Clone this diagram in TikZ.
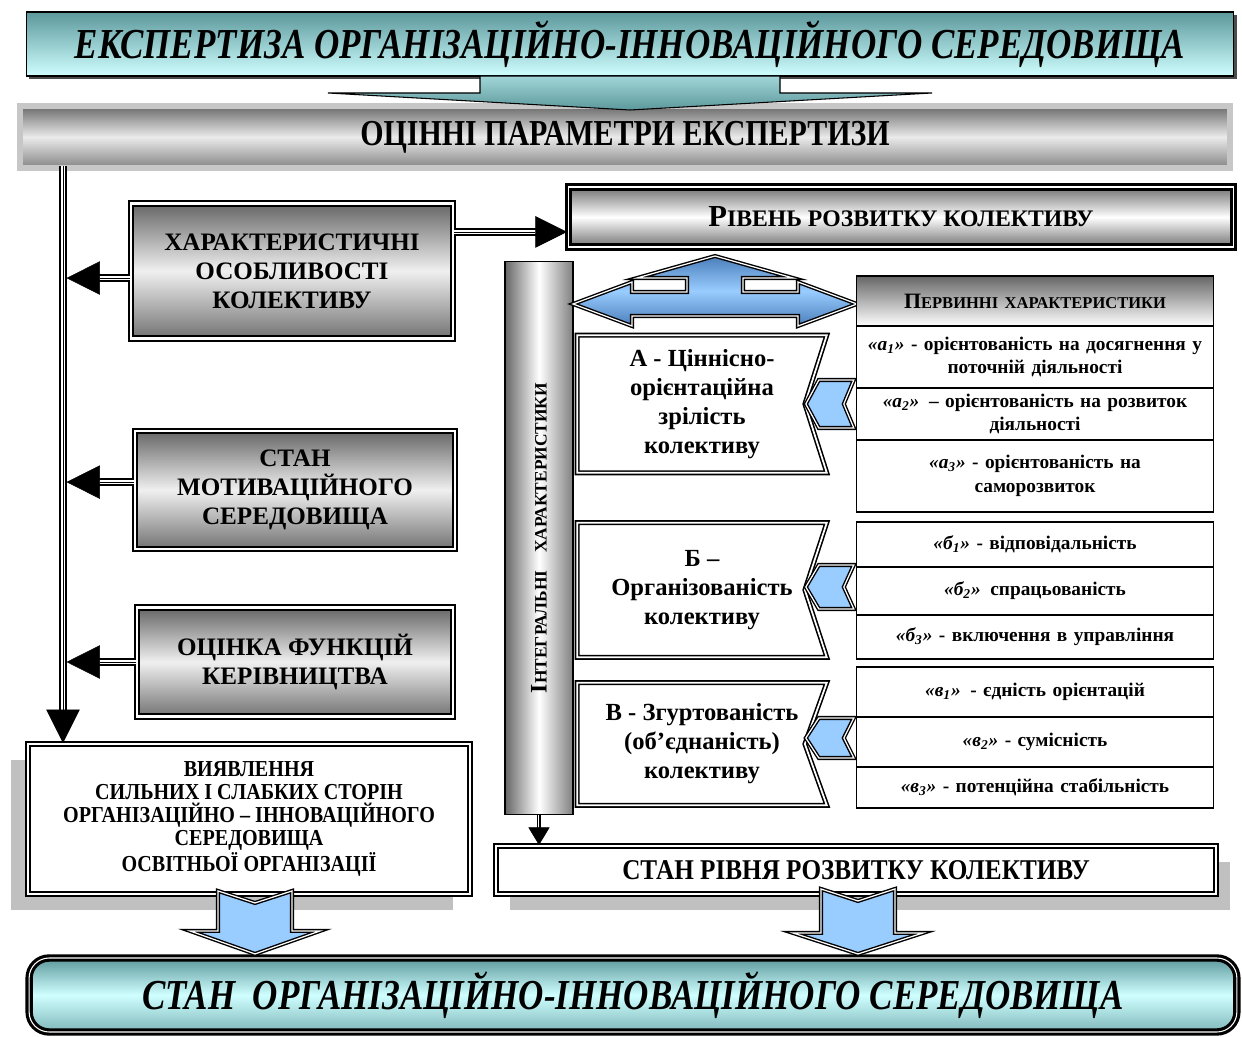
\documentclass[tikz,border=0pt]{standalone}
\usepackage{fontspec}
\setmainfont{Liberation Serif}
\newfontfamily\condfont{Liberation Serif}[FakeStretch=0.88]
\newfontfamily\narrowfont{Liberation Serif}[FakeStretch=0.82]
\usepackage{xcolor}
\usepackage{tikz}
\usetikzlibrary{shapes,arrows.meta,positioning,calc,shadows}
\definecolor{tealdark}{RGB}{92,152,156}
\definecolor{teallight}{RGB}{208,255,255}
\definecolor{skyblue}{RGB}{153,204,255}
\definecolor{bluedeep}{RGB}{74,126,186}
\definecolor{shadowgrey}{RGB}{192,192,192}

\begin{document}
\begin{tikzpicture}[x=0.02cm,y=-0.02cm,
titlebox/.style={draw,line width=0.6pt,top color=tealdark,bottom color=teallight,align=center,inner sep=0pt,font=\narrowfont\fontsize{24.3}{26}\selectfont\bfseries\itshape},
greybox/.style={draw,line width=1.3pt,double=white,double distance=1.2pt,top color=black!60,bottom color=black!55,middle color=black!6,align=center,inner sep=0pt,font=\fontsize{14.3}{16.5}\selectfont\bfseries},
framebox/.style={draw,line width=1.1pt,double=white,double distance=1.2pt,fill=white,align=center,inner sep=0pt},
valbox/.style={align=center,minimum width=4.98cm,inner sep=0pt,font=\fontsize{14}{16.5}\selectfont\bfseries},
notchframe/.style={draw,line width=0.9pt,double=white,double distance=1pt},
tabcell/.style={draw,line width=0.8pt,minimum width=7.14cm,text width=6.9cm,align=center,inner sep=0pt,outer sep=0pt,font=\fontsize{11}{13.5}\selectfont\bfseries},
bluearr/.style={draw,line width=0.8pt,double=white,double distance=0.7pt,fill=skyblue},
dblline/.style={draw,line width=1.5pt,double=white,double distance=2pt},
headtip/.style={line width=0.3pt,-{Triangle[length=#1,width=#1]}}]
\useasboundingbox (0,0) rectangle (1242,1037);

\node[titlebox,minimum width=24.16cm,minimum height=1.28cm,drop shadow={shadow xshift=1.5pt,shadow yshift=-1.5pt,fill=black,opacity=0.7}](expert) at (630,44){ЕКСПЕРТИЗА ОРГАНІЗАЦІЙНО-ІННОВАЦІЙНОГО СЕРЕДОВИЩА};
\node[draw=black!22,line width=3pt,top color=black!58,bottom color=black!48,middle color=black!8,minimum width=24.2cm,minimum height=1.24cm,inner sep=0pt,font=\narrowfont\fontsize{20.8}{22}\selectfont\bfseries](params) at (625,137){ОЦІННІ ПАРАМЕТРИ ЕКСПЕРТИЗИ};
\path[draw,line width=0.6pt,top color=teallight!60!tealdark,bottom color=tealdark] (480,76) -- (780,76) -- (780,93) -- (932,93) -- (630,110) -- (328,93) -- (480,93) -- cycle;

\node[greybox,minimum width=6.44cm,minimum height=2.7cm](traits) at (292,271){ХАРАКТЕРИСТИЧНІ\\ОСОБЛИВОСТІ\\КОЛЕКТИВУ};
\node[greybox,minimum width=6.4cm,minimum height=2.36cm](motiv) at (295,490){СТАН\\МОТИВАЦІЙНОГО\\СЕРЕДОВИЩА};
\node[greybox,minimum width=6.32cm,minimum height=2.18cm](leader) at (295,662){ОЦІНКА ФУНКЦІЙ\\КЕРІВНИЦТВА};

\node[draw,line width=1.8pt,double=white,double distance=0.7pt,top color=black!55,bottom color=black!55,middle color=white,minimum width=13.3cm,minimum height=1.2cm,inner sep=0pt,font=\bfseries](level) at (901,217){\fontsize{17.4}{19}\selectfont Р\fontsize{13.5}{15}\selectfont ІВЕНЬ РОЗВИТКУ КОЛЕКТИВУ};

\node[draw,line width=0.6pt,left color=black!60,right color=black!50,middle color=white,minimum width=1.36cm,minimum height=11.06cm,inner sep=0pt](intbar) at (539,538){};
\node[rotate=90,font=\bfseries](intlbl) at (intbar){\fontsize{13.5}{15}\selectfont І\fontsize{9.9}{11}\selectfont НТЕГРАЛЬНІ\quad ХАРАКТЕРИСТИКИ};

\path[bluearr,top color=bluedeep,bottom color=bluedeep,middle color=skyblue] (573,304) -- (632,282) -- (632,292) -- (687,292) -- (687,278) -- (637,278) -- (715,256) -- (793,278) -- (743,278) -- (743,292) -- (798,292) -- (798,282) -- (857,304) -- (798,326) -- (798,316) -- (632,316) -- (632,326) -- cycle;

\node[valbox,minimum height=2.74cm](valA) at (702,404){А - Ціннісно-\\орієнтаційна\\зрілість\\колективу};
\node[valbox,minimum height=2.68cm](valB) at (702,590){Б –\\Організованість\\колективу};
\node[valbox,minimum height=2.44cm](valC) at (702,744){В - Згуртованість\\(об'єднаність)\\колективу};
\draw[notchframe] (valA.north west) -- (valA.north east) -- ([xshift=-12.5pt]valA.east) -- (valA.south east) -- (valA.south west) -- cycle;
\draw[notchframe] (valB.north west) -- (valB.north east) -- ([xshift=-12.5pt]valB.east) -- (valB.south east) -- (valB.south west) -- cycle;
\draw[notchframe] (valC.north west) -- (valC.north east) -- ([xshift=-12.5pt]valC.east) -- (valC.south east) -- (valC.south west) -- cycle;

\node[tabcell,minimum height=1.0cm,top color=black!60,bottom color=white](prim) at (1035,301){\fontsize{12.5}{14}\selectfont П\fontsize{9.4}{11}\selectfont ЕРВИННІ ХАРАКТЕРИСТИКИ};
\node[tabcell,minimum height=1.24cm,below=0pt of prim](a1){\textit{«а\textsubscript{1}»} - орієнтованість на досягнення у\\поточній діяльності};
\node[tabcell,minimum height=1.04cm,below=0pt of a1](a2){\textit{«а\textsubscript{2}»}\enspace – орієнтованість на розвиток\\діяльності};
\node[tabcell,minimum height=1.44cm,below=0pt of a2](a3){\textit{«а\textsubscript{3}»} - орієнтованість на\\саморозвиток};
\node[tabcell,minimum height=0.9cm,below=0.2cm of a3](b1){\textit{«б\textsubscript{1}»} - відповідальність};
\node[tabcell,minimum height=0.96cm,below=0pt of b1](b2){\textit{«б\textsubscript{2}»}\enspace спрацьованість};
\node[tabcell,minimum height=0.88cm,below=0pt of b2](b3){\textit{«б\textsubscript{3}»} - включення в управління};
\node[tabcell,minimum height=1.0cm,below=0.16cm of b3](v1){\textit{«в\textsubscript{1}»}\enspace - єдність орієнтацій};
\node[tabcell,minimum height=1.0cm,below=0pt of v1](v2){\textit{«в\textsubscript{2}»} - сумісність};
\node[tabcell,minimum height=0.82cm,below=0pt of v2](v3){\textit{«в\textsubscript{3}»} - потенційна стабільність};

\path[bluearr,shift={(valA.east)}] (-21,0) -- (-8,-24) -- (27,-24) -- (17,0) -- (27,24) -- (-8,24) -- cycle;
\path[bluearr,shift={(valB.east)}] (-21,-3) -- (-8,-25) -- (27,-25) -- (17,-3) -- (27,19) -- (-8,19) -- cycle;
\path[bluearr,shift={(valC.east)}] (-21,-6) -- (-8,-26) -- (27,-26) -- (17,-6) -- (27,14) -- (-8,14) -- cycle;

\node[framebox,drop shadow={shadow xshift=-9.5pt,shadow yshift=-9pt,fill=shadowgrey,opacity=1},minimum width=8.84cm,minimum height=3.0cm,font=\condfont\fontsize{13}{13}\selectfont\bfseries](reveal) at (249,819){ВИЯВЛЕННЯ\\СИЛЬНИХ І СЛАБКИХ СТОРІН\\ОРГАНІЗАЦІЙНО – ІННОВАЦІЙНОГО\\СЕРЕДОВИЩА\\ОСВІТНЬОЇ ОРГАНІЗАЦІЇ};
\node[framebox,drop shadow={shadow xshift=8pt,shadow yshift=-9pt,fill=shadowgrey,opacity=1},minimum width=14.42cm,minimum height=0.96cm,font=\condfont\fontsize{16.3}{17}\selectfont\bfseries](devstate) at (856,870){СТАН РІВНЯ РОЗВИТКУ КОЛЕКТИВУ};
\node[draw,line width=1.8pt,double=white,double distance=0.6pt,rounded corners=0.4cm,top color=tealdark,bottom color=tealdark!70!teallight,middle color=teallight,minimum width=24.16cm,minimum height=1.48cm,inner sep=0pt,font=\narrowfont\fontsize{24.3}{26}\selectfont\bfseries\itshape](envstate) at (633,995){СТАН\ \ ОРГАНІЗАЦІЙНО-ІННОВАЦІЙНОГО СЕРЕДОВИЩА};

\path[bluearr,shift={(reveal.south)}] (-31,-4) -- (6,8) -- (43,-4) -- (43,36) -- (71,36) -- (6,59) -- (-59,36) -- (-31,36) -- cycle;
\path[bluearr,shift={(devstate.south)}] (-35,-6) -- (2,6) -- (39,-6) -- (39,38) -- (67,38) -- (2,59) -- (-63,38) -- (-35,38) -- cycle;

\coordinate (spine) at (63,166);
\draw[dblline,shorten >=14pt] (spine) -- (spine |- reveal.north); \draw[headtip=19pt] (spine) -- (spine |- reveal.north);
\draw[dblline,shorten >=14pt] ([yshift=-4pt]traits.west) -- ([yshift=-4pt]traits.west -| spine); \draw[headtip=19pt,shorten >=2pt] ([yshift=-4pt]traits.west) -- ([yshift=-4pt]traits.west -| spine);
\draw[dblline,shorten >=14pt] ([yshift=4.5pt]motiv.west) -- ([yshift=4.5pt]motiv.west -| spine); \draw[headtip=19pt,shorten >=2pt] ([yshift=4.5pt]motiv.west) -- ([yshift=4.5pt]motiv.west -| spine);
\draw[dblline,shorten >=14pt] (leader.west) -- (leader.west -| spine); \draw[headtip=19pt,shorten >=2pt] (leader.west) -- (leader.west -| spine);
\draw[dblline,shorten >=14pt] ([yshift=-8.5pt]level.west -| traits.east) -- ([yshift=-8.5pt]level.west); \draw[headtip=18pt] ([yshift=-8.5pt]level.west -| traits.east) -- ([yshift=-8.5pt]level.west);
\draw[dblline,line width=0.7pt,double distance=1.2pt,shorten >=8pt] (intbar.south) -- (intbar.south |- devstate.north); \draw[line width=0.3pt,-{Triangle[length=10pt,width=12pt]}] (intbar.south) -- (intbar.south |- devstate.north);
\end{tikzpicture}
\end{document}
